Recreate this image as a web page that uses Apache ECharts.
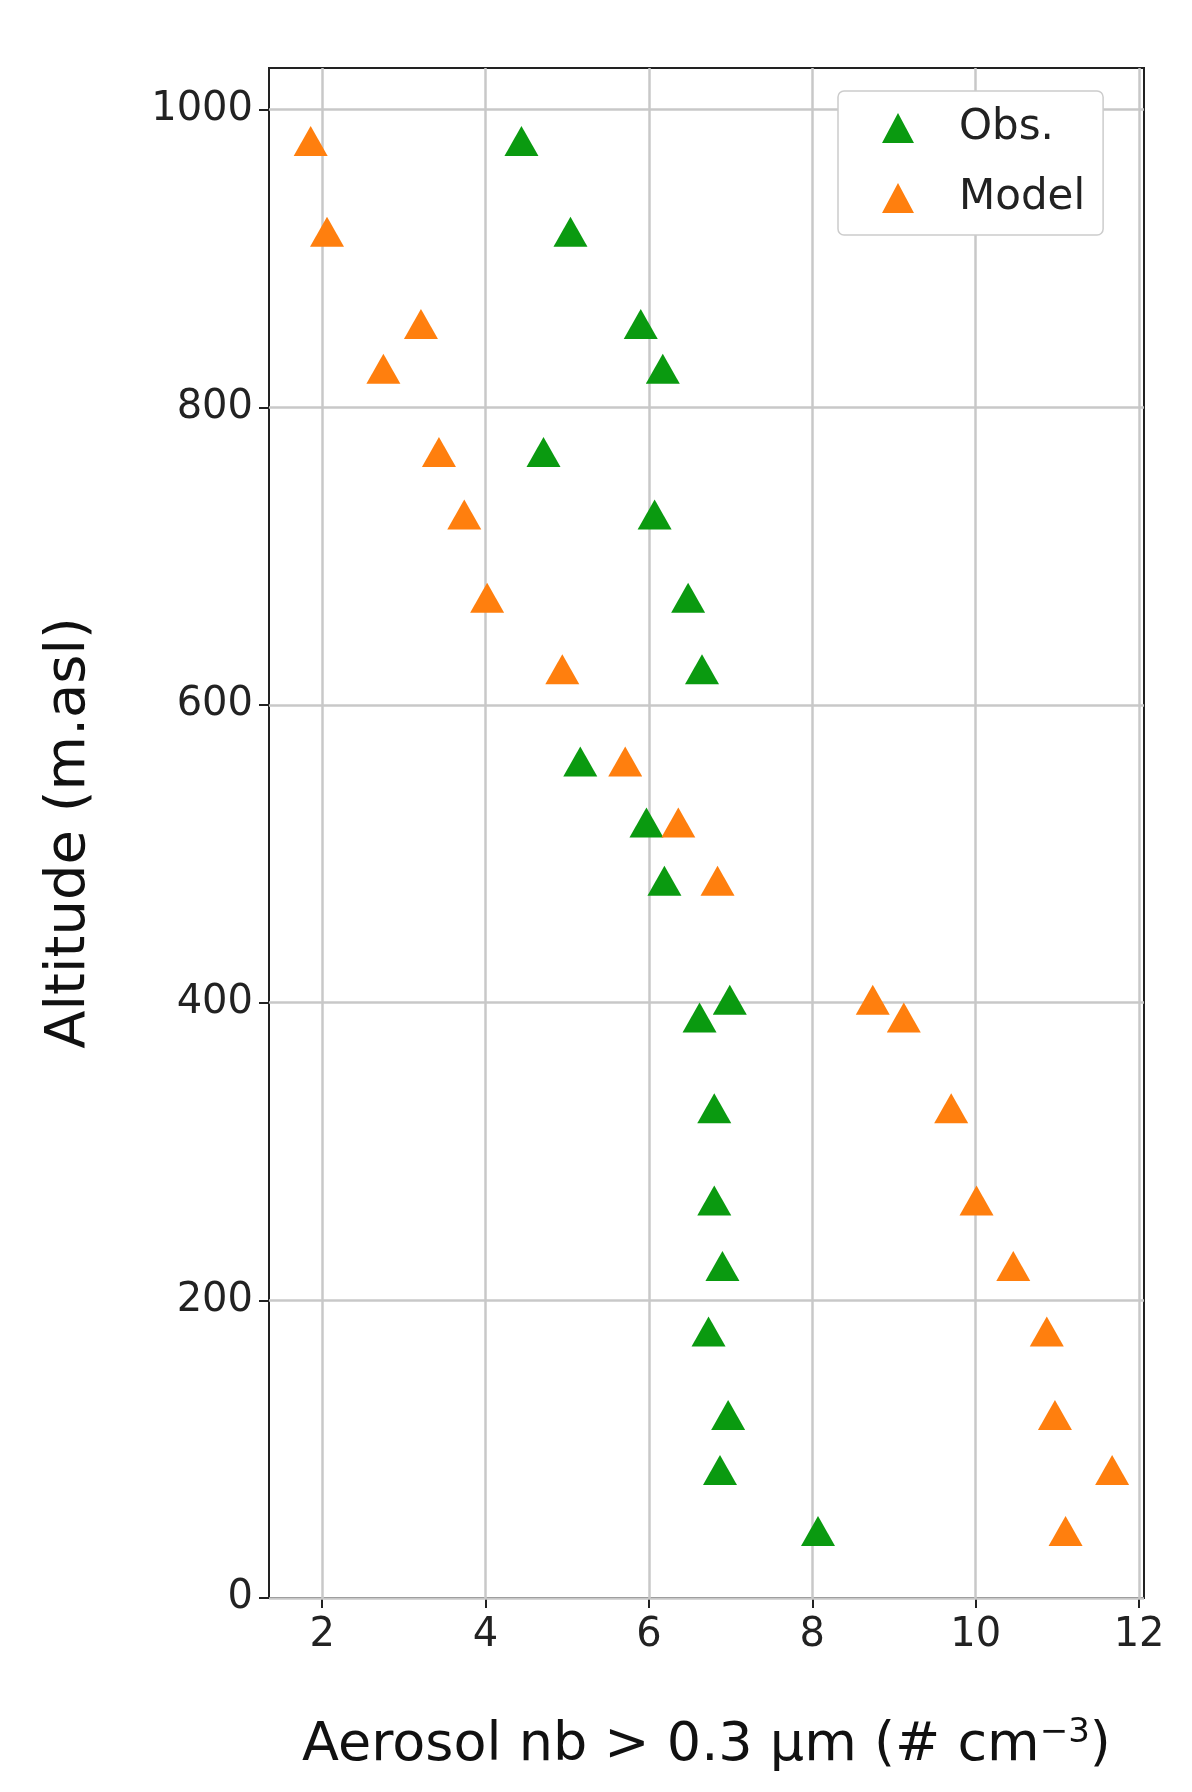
<!DOCTYPE html>
<html><head><meta charset="utf-8">
<script src="https://cdn.jsdelivr.net/npm/echarts@6/dist/echarts.min.js"></script>
<style>html,body{margin:0;padding:0;background:#fff}#c{width:1192px;height:1792px}</style>
</head><body><div id="c"></div>
<script>
const altitudes = [979,918,856,826,770,728,672,624,562,521,482,402,390,329,267,223,179,123,86,45];
const obsValues = [4.44,5.04,5.9,6.17,4.71,6.07,6.48,6.65,5.16,5.97,6.19,6.99,6.62,6.8,6.8,6.9,6.73,6.97,6.87,8.07];
const modelValues = [1.86,2.06,3.21,2.75,3.43,3.74,4.02,4.94,5.71,6.36,6.84,8.74,9.12,9.7,10.01,10.46,10.87,10.97,11.67,11.1];
const xTicks = [2,4,6,8,10,12];
const yTicks = [0,200,400,600,800,1000];
const font = 'DejaVu Sans';
const chart = echarts.init(document.getElementById('c'));
const grid = [...xTicks.map(v=>({xAxis:v})), ...yTicks.map(v=>({yAxis:v}))];
chart.setOption({
  animation:false,
  grid:{left:269,right:48,top:68,bottom:194,show:true,borderColor:'#222',borderWidth:2,backgroundColor:'#fff'},
  legend:{orient:'vertical',left:838,top:91,padding:[16,18,16,44],itemGap:28,itemWidth:32,itemHeight:30,
    backgroundColor:'#fff',borderColor:'#ccc',borderWidth:1.5,borderRadius:6,
    textStyle:{fontFamily:font,fontSize:42,color:'#222',padding:[0,0,0,40]},
    data:[{name:'Obs.',icon:'triangle'},{name:'Model',icon:'triangle'}]},
  xAxis:{type:'value',min:1.35,max:12.06,
    name:'Aerosol nb > 0.3 μm (# cm{s|−3})',nameLocation:'middle',nameGap:118,
    nameTextStyle:{fontFamily:font,fontSize:54,color:'#111',rich:{s:{fontFamily:font,fontSize:34,verticalAlign:'top',padding:[0,0,26,0],color:'#111'}}},
    axisLine:{show:false},splitLine:{show:false},
    axisTick:{show:true,customValues:xTicks,length:10,lineStyle:{color:'#222',width:2}},
    axisLabel:{customValues:xTicks,fontFamily:font,fontSize:40,color:'#222',margin:18}},
  yAxis:{type:'value',min:0,max:1028,
    name:'Altitude (m.asl)',nameLocation:'middle',nameGap:172,
    nameTextStyle:{fontFamily:font,fontSize:56,color:'#111'},
    axisLine:{show:false},splitLine:{show:false},
    axisTick:{show:true,customValues:yTicks,length:10,lineStyle:{color:'#222',width:2}},
    axisLabel:{customValues:yTicks,formatter:v=>String(v),fontFamily:font,fontSize:40,color:'#222',margin:16}},
  series:[
    {name:'Obs.',type:'scatter',symbol:'triangle',symbolSize:[34,30],itemStyle:{color:'#0a9a10',opacity:1},z:3,
     data:obsValues.map((v,i)=>[v,altitudes[i]]),
     markLine:{silent:true,symbol:'none',label:{show:false},lineStyle:{color:'#c8c8c8',width:2.5,type:'solid'},data:grid,z:1}},
    {name:'Model',type:'scatter',symbol:'triangle',symbolSize:[34,30],itemStyle:{color:'#ff7f0e',opacity:1},z:3,
     data:modelValues.map((v,i)=>[v,altitudes[i]])}
  ]
});
</script></body></html>
